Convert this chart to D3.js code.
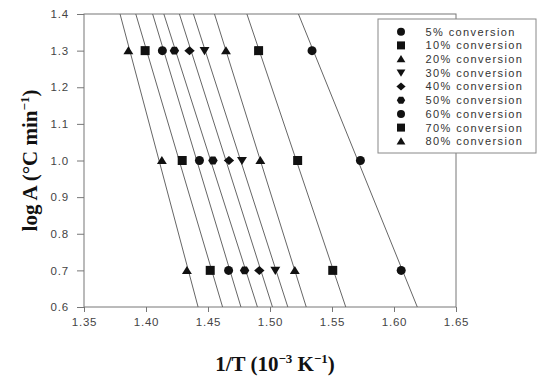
<!DOCTYPE html>
<html>
<head>
<style>
    body { margin: 0; background: #fff; }
    .tick text { font-family: "Liberation Sans", Arial, sans-serif; font-size: 11.5px; fill: #444; letter-spacing: 0.8px; }
    .tick line, .domain { stroke: #777; }
    .legend text { font-family: "Liberation Sans", Arial, sans-serif; font-size: 11px; fill: #333; letter-spacing: 1.4px; }
    .title { font-family: "Liberation Serif", "Times New Roman", serif; font-weight: bold; font-size: 21px; fill: #111; }
</style>
</head>
<body>
<div id="chart"></div>
<script src="https://cdnjs.cloudflare.com/ajax/libs/d3/7.8.5/d3.min.js"></script>
<script>
    // log A levels (heating rates) shared by every series
    const logA = [0.7, 1.0, 1.3];

    // 1/T values (10^-3 K^-1), one array per conversion
    const conv5 = [1.6058, 1.5729, 1.5339];
    const conv10 = [1.5506, 1.5223, 1.4908];
    const conv20 = [1.5200, 1.4922, 1.4645];
    const conv30 = [1.5043, 1.4774, 1.4472];
    const conv40 = [1.4914, 1.4669, 1.4351];
    const conv50 = [1.4795, 1.4540, 1.4229];
    const conv60 = [1.4666, 1.4431, 1.4132];
    const conv70 = [1.4518, 1.4292, 1.3993];
    const conv80 = [1.4330, 1.4128, 1.3858];

    const labels = ["5% conversion", "10% conversion", "20% conversion", "30% conversion",
        "40% conversion", "50% conversion", "60% conversion", "70% conversion", "80% conversion"];
    const shapes = ["circle", "square", "triUp", "triDown", "diamond", "hexagon", "circle", "square", "triUp"];
    const values = [conv5, conv10, conv20, conv30, conv40, conv50, conv60, conv70, conv80];

    const xTicks = [1.35, 1.40, 1.45, 1.50, 1.55, 1.60, 1.65];
    const yTicks = [0.6, 0.7, 0.8, 0.9, 1.0, 1.1, 1.2, 1.3, 1.4];

    const width = 550, height = 389;
    const margin = { top: 14, right: 94, bottom: 82, left: 84 };
    const w = 456 - margin.left;
    const h = 307 - margin.top;

    const svg = d3.select("#chart").append("svg")
        .attr("width", width)
        .attr("height", height);

    const g = svg.append("g").attr("transform", `translate(${margin.left},${margin.top})`);

    const x = d3.scaleLinear().domain([1.35, 1.65]).range([0, w]);
    const y = d3.scaleLinear().domain([0.6, 1.4]).range([h, 0]);

    // marker shapes, s = nominal width in px
    function shapePath(type, s) {
        const r = s / 2;
        if (type === "circle") return d3.symbol(d3.symbolCircle, Math.PI * r * r)();
        if (type === "square") return `M${-r},${-r}h${s}v${s}h${-s}Z`;
        if (type === "triUp") return `M0,${-r}L${r * 1.1},${r * 0.8}L${-r * 1.1},${r * 0.8}Z`;
        if (type === "triDown") return `M0,${r}L${r * 1.1},${-r * 0.8}L${-r * 1.1},${-r * 0.8}Z`;
        if (type === "diamond") return `M${-r * 1.15},0L0,${-r}L${r * 1.15},0L0,${r}Z`;
        if (type === "hexagon") {
            const pts = d3.range(6).map(i => {
                const a = Math.PI / 3 * i;
                return [Math.cos(a) * r * 1.05, Math.sin(a) * r];
            });
            return "M" + pts.join("L") + "Z";
        }
    }

    // clip for the regression lines
    svg.append("defs").append("clipPath").attr("id", "plot-clip")
        .append("rect").attr("width", w).attr("height", h);

    // axes
    g.append("g")
        .attr("transform", `translate(0,${h})`)
        .call(d3.axisBottom(x).tickValues(xTicks).tickSize(5).tickPadding(6).tickFormat(d3.format(".2f")));

    g.append("g")
        .call(d3.axisLeft(y).tickValues(yTicks).tickSize(7).tickPadding(8).tickFormat(d3.format(".1f")));

    g.selectAll(".domain").remove();

    // frame
    g.append("rect")
        .attr("width", w)
        .attr("height", h)
        .attr("fill", "none")
        .attr("stroke", "#777")
        .attr("stroke-width", 1);

    // regression lines (1/T as a function of log A), spanning the y range
    const lines = g.append("g").attr("clip-path", "url(#plot-clip)");
    values.forEach(xs => {
        const my = d3.mean(logA), mx = d3.mean(xs);
        const slope = d3.sum(logA, (v, i) => (v - my) * (xs[i] - mx)) / d3.sum(logA, v => (v - my) ** 2);
        const at = v => mx + slope * (v - my);
        lines.append("line")
            .attr("x1", x(at(1.4))).attr("y1", y(1.4))
            .attr("x2", x(at(0.6))).attr("y2", y(0.6))
            .attr("stroke", "#666")
            .attr("stroke-width", 1);
    });

    // markers
    values.forEach((xs, k) => {
        g.append("g").selectAll("path")
            .data(xs.map((v, i) => [v, logA[i]]))
            .join("path")
            .attr("transform", d => `translate(${x(d[0])},${y(d[1])})`)
            .attr("d", shapePath(shapes[k], 9))
            .attr("fill", "#111");
    });

    // legend
    const legend = svg.append("g").attr("class", "legend");
    legend.append("rect")
        .attr("x", 378).attr("y", 19)
        .attr("width", 158).attr("height", 134)
        .attr("fill", "#fff")
        .attr("stroke", "#888")
        .attr("stroke-width", 1);

    const rowY = d3.scaleLinear().domain([0, labels.length - 1]).range([31.7, 141.3]);
    labels.forEach((lab, i) => {
        legend.append("path")
            .attr("transform", `translate(401,${rowY(i)})`)
            .attr("d", shapePath(shapes[i], 8))
            .attr("fill", "#111");
        legend.append("text")
            .attr("x", 425.5)
            .attr("y", rowY(i))
            .attr("dy", "0.36em")
            .text(lab);
    });

    // axis titles
    const xt = svg.append("text")
        .attr("class", "title")
        .attr("text-anchor", "middle")
        .attr("x", 275)
        .attr("y", 371);
    xt.append("tspan").text("1/T (10");
    xt.append("tspan").attr("dy", -8).attr("font-size", "13px").text("\u22123");
    xt.append("tspan").attr("dy", 8).text(" K");
    xt.append("tspan").attr("dy", -8).attr("font-size", "13px").text("\u22121");
    xt.append("tspan").attr("dy", 8).text(")");

    const yt = svg.append("text")
        .attr("class", "title")
        .attr("text-anchor", "middle")
        .attr("transform", `translate(37,${(margin.top + 307) / 2}) rotate(-90)`);
    yt.append("tspan").text("log A (\u00B0C min");
    yt.append("tspan").attr("dy", -8).attr("font-size", "13px").text("\u22121");
    yt.append("tspan").attr("dy", 8).text(")");
</script>
</body>
</html>
